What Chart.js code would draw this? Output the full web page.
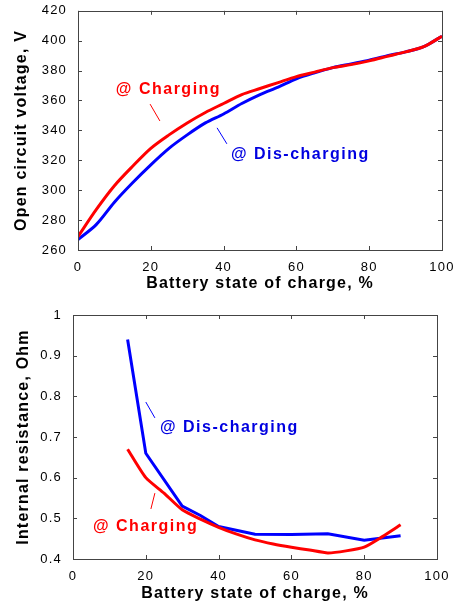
<!DOCTYPE html>
<html>
<head>
<meta charset="utf-8">
<script src="https://cdn.jsdelivr.net/npm/chart.js@4.4.1/dist/chart.umd.min.js"></script>
<style>
  html, body { margin: 0; padding: 0; background: #fff; }
  canvas { display: block; }
</style>
</head>
<body>
<canvas id="ocv" width="460" height="300"></canvas>
<canvas id="res" width="460" height="306"></canvas>
<script>
// open circuit voltage vs SOC
const socOcv = [0, 5, 10, 15, 20, 25, 30, 35, 40, 45, 50, 55, 60, 65, 70, 75, 80, 85, 90, 95, 100];
const ocvCharging = [269, 287, 303, 316, 328, 337, 345, 352, 358, 364, 368, 372, 376, 379, 382, 384, 386.5, 389.5, 392.5, 396, 403];
const ocvDischarging = [267, 277, 292, 305, 317, 328, 337, 345, 351, 358, 364, 369, 374.5, 378.5, 382, 384.5, 387, 390, 392.5, 396, 403];
const ocvTicksY = [260, 280, 300, 320, 340, 360, 380, 400, 420];

// internal resistance vs SOC
const socResCharging = [15, 20, 25, 30, 35, 40, 45, 50, 55, 60, 65, 70, 75, 80, 85, 90];
const resCharging = [0.67, 0.60, 0.562, 0.521, 0.498, 0.478, 0.461, 0.447, 0.437, 0.429, 0.422, 0.415, 0.420, 0.429, 0.455, 0.484];
const socResDischarging = [15, 20, 30, 35, 40, 50, 60, 70, 80, 90];
const resDischarging = [0.94, 0.66, 0.53, 0.507, 0.48, 0.461, 0.46, 0.462, 0.446, 0.457];

const RED = '#ff0000';
const BLUE = '#0000ff';
const FONT = "'Liberation Sans', Arial, sans-serif";

// labels placed in data units: [text, x, y, color], leader [x1, y1, x2, y2, color]
const ocvNotes = [['@ Charging', 10.4, 367.6, RED], ['@ Dis-charging', 42, 323.7, '#0000e0']];
const ocvLeaders = [[19.8, 357.6, 22.5, 346.3, RED], [38.2, 341.7, 40.9, 331, BLUE]];
const resNotes = [['@ Dis-charging', 23.9, 0.722, '#0000e0'], ['@ Charging', 5.5, 0.479, RED]];
const resLeaders = [[20, 0.786, 22.5, 0.747, BLUE], [22.5, 0.562, 21.4, 0.523, RED]];

const toXY = (xs, ys) => xs.map((x, i) => ({ x, y: ys[i] }));

const spacing = {
  id: 'spacing',
  beforeUpdate(chart) { chart.ctx.letterSpacing = '1.2px'; },
  beforeDraw(chart) { chart.ctx.letterSpacing = '1.2px'; }
};

// matlab style box with inward ticks on all four sides
const frame = {
  id: 'frame',
  afterDatasetsDraw(chart) {
    const { ctx, chartArea: a, scales } = chart;
    const len = 4;
    ctx.save();
    ctx.strokeStyle = '#444';
    ctx.lineWidth = 1;
    ctx.beginPath();
    scales.x.ticks.forEach(t => {
      const px = Math.round(scales.x.getPixelForValue(t.value)) + 0.5;
      ctx.moveTo(px, a.bottom); ctx.lineTo(px, a.bottom - len);
      ctx.moveTo(px, a.top); ctx.lineTo(px, a.top + len);
    });
    scales.y.ticks.forEach(t => {
      const py = Math.round(scales.y.getPixelForValue(t.value)) + 0.5;
      ctx.moveTo(a.left, py); ctx.lineTo(a.left + len, py);
      ctx.moveTo(a.right, py); ctx.lineTo(a.right - len, py);
    });
    ctx.stroke();
    ctx.strokeRect(Math.round(a.left) + 0.5, Math.round(a.top) + 0.5,
      Math.round(a.right - a.left), Math.round(a.bottom - a.top));
    ctx.restore();
  }
};

const notes = {
  id: 'notes',
  afterDatasetsDraw(chart, args, opts) {
    const { ctx, scales } = chart;
    ctx.save();
    ctx.lineWidth = 1;
    opts.leaders.forEach(([x1, y1, x2, y2, c]) => {
      ctx.strokeStyle = c;
      ctx.beginPath();
      ctx.moveTo(scales.x.getPixelForValue(x1), scales.y.getPixelForValue(y1));
      ctx.lineTo(scales.x.getPixelForValue(x2), scales.y.getPixelForValue(y2));
      ctx.stroke();
    });
    ctx.font = 'bold 16px ' + FONT;
    ctx.letterSpacing = '1.5px';
    ctx.textBaseline = 'middle';
    ctx.textAlign = 'left';
    opts.labels.forEach(([txt, x, y, c]) => {
      ctx.fillStyle = c;
      ctx.fillText(txt, scales.x.getPixelForValue(x), scales.y.getPixelForValue(y));
    });
    ctx.restore();
  }
};

function makeChart(id, cfg) {
  return new Chart(document.getElementById(id), {
    type: 'line',
    data: {
      datasets: cfg.series.map(s => ({
        data: s.data,
        borderColor: s.color,
        borderWidth: 3,
        pointRadius: 0,
        tension: s.tension || 0,
        fill: false
      }))
    },
    options: {
      responsive: false,
      animation: false,
      layout: { padding: cfg.padding },
      plugins: {
        legend: { display: false },
        tooltip: { enabled: false },
        notes: { labels: cfg.labels, leaders: cfg.leaders }
      },
      scales: {
        x: {
          type: 'linear',
          min: 0, max: 100,
          ticks: { stepSize: 20, color: '#000', font: { family: FONT, size: 13 }, padding: 2, maxRotation: 0 },
          grid: { display: false },
          border: { display: false },
          title: { display: true, text: 'Battery state of charge, %', color: '#000',
                   font: { family: FONT, size: 16, weight: 'bold' }, padding: { top: 6, bottom: cfg.xTitlePad } },
          afterFit(s) { s.height = cfg.xHeight; }
        },
        y: {
          min: cfg.yMin, max: cfg.yMax,
          ticks: { stepSize: cfg.yStep, color: '#000', font: { family: FONT, size: 13 }, padding: 3,
                   callback: v => String(Number(v.toFixed(2))) },
          grid: { display: false },
          border: { display: false },
          title: { display: true, text: cfg.yTitle, color: '#000',
                   font: { family: FONT, size: 16, weight: 'bold' }, padding: { top: cfg.yTitlePad, bottom: 4 } },
          afterFit(s) { s.width = cfg.yWidth; }
        }
      }
    },
    plugins: [spacing, frame, notes]
  });
}

makeChart('ocv', {
  series: [
    { data: toXY(socOcv, ocvCharging), color: RED, tension: 0.3 },
    { data: toXY(socOcv, ocvDischarging), color: BLUE, tension: 0.3 }
  ],
  yMin: ocvTicksY[0], yMax: ocvTicksY[ocvTicksY.length - 1], yStep: 20,
  yTitle: 'Open circuit voltage, V',
  padding: { top: 9, right: 18, left: 0, bottom: 0 },
  xHeight: 50, yWidth: 78, xTitlePad: 7, yTitlePad: 12,
  labels: ocvNotes, leaders: ocvLeaders
});

makeChart('res', {
  series: [
    { data: toXY(socResCharging, resCharging), color: RED, tension: 0.2 },
    { data: toXY(socResDischarging, resDischarging), color: BLUE }
  ],
  yMin: 0.4, yMax: 1, yStep: 0.1,
  yTitle: 'Internal resistance, Ohm',
  padding: { top: 15, right: 23, left: 0, bottom: 0 },
  xHeight: 47, yWidth: 73, xTitlePad: 3, yTitlePad: 14,
  labels: resNotes, leaders: resLeaders
});
</script>
</body>
</html>
